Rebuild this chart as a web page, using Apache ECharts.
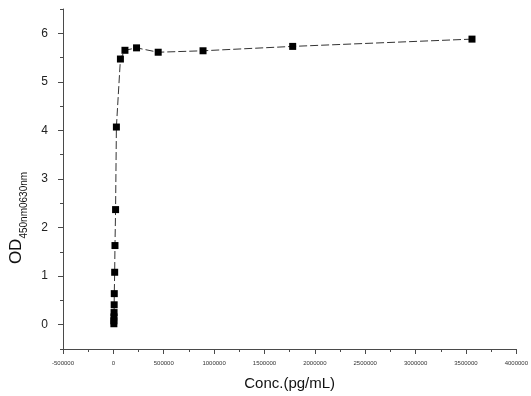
<!DOCTYPE html>
<html>
<head>
<meta charset="utf-8">
<script src="https://cdn.jsdelivr.net/npm/echarts@6/dist/echarts.min.js"></script>
<style>
  html, body { margin: 0; padding: 0; background: #fff; }
  #chart { width: 531px; height: 396px; }
</style>
</head>
<body>
<div id="chart"></div>
<script>
// concentration (pg/mL) and OD readings
const conc = [3560000, 1780000, 890000, 445000, 230000, 115000, 70000, 30000, 22000, 16000, 13000, 9000, 8000, 7000, 6000, 5000, 5000];
const od = [5.88, 5.73, 5.64, 5.61, 5.70, 5.65, 5.47, 4.07, 2.37, 1.63, 1.08, 0.64, 0.41, 0.25, 0.16, 0.08, 0.02];

const yMajor = [0, 1, 2, 3, 4, 5, 6];
const yMinor = [-0.5, 0.5, 1.5, 2.5, 3.5, 4.5, 5.5, 6.5];

const points = conc.map((c, i) => [c, od[i]]);

const chart = echarts.init(document.getElementById('chart'), null, { renderer: 'canvas' });

const axisColor = '#4a4a4a';

const option = {
  backgroundColor: '#fff',
  animation: false,
  grid: { left: 61, right: 13, top: 9, bottom: 47 },
  xAxis: {
    type: 'value',
    min: -500000,
    max: 4000000,
    interval: 500000,
    name: 'Conc.(pg/mL)',
    nameLocation: 'middle',
    nameGap: 27,
    nameTextStyle: { fontFamily: 'Liberation Sans', fontSize: 15, color: '#111' },
    axisLine: { onZero: false, lineStyle: { color: axisColor, width: 1 } },
    axisTick: { length: 5, lineStyle: { color: axisColor } },
    minorTick: { show: true, splitNumber: 2, length: 3, lineStyle: { color: axisColor } },
    axisLabel: {
      fontFamily: 'Liberation Sans', fontSize: 6, color: '#333', margin: 11, showMaxLabel: true,
      formatter: v => String(v)
    },
    splitLine: { show: false }
  },
  yAxis: [
    {
      type: 'value',
      min: -0.5,
      max: 6.5,
      name: '{a|OD}{b|450nm0630nm}',
      nameLocation: 'middle',
      nameGap: 38,
      nameRotate: 90,
      nameTextStyle: {
        padding: [0, 78, 0, 0],
        rich: {
          a: { fontFamily: 'Liberation Sans', fontSize: 17, color: '#111', verticalAlign: 'bottom', lineHeight: 20 },
          b: { fontFamily: 'Liberation Sans', fontSize: 10, color: '#111', verticalAlign: 'bottom', lineHeight: 12, padding: [0, 0, -4, 0] }
        }
      },
      axisLine: { show: true, onZero: false, lineStyle: { color: axisColor, width: 1 } },
      axisTick: { length: 5, customValues: yMajor, lineStyle: { color: axisColor } },
      axisLabel: {
        fontFamily: 'Liberation Sans', fontSize: 12, color: '#222', margin: 15,
        customValues: yMajor
      },
      splitLine: { show: false }
    },
    {
      // second copy of the y axis, only for the half-step minor ticks
      type: 'value',
      position: 'left',
      min: -0.5,
      max: 6.5,
      axisLine: { show: false, onZero: false },
      axisTick: { length: 3, customValues: yMinor, lineStyle: { color: axisColor } },
      axisLabel: { show: false },
      splitLine: { show: false }
    }
  ],
  series: [{
    type: 'line',
    data: points,
    symbol: 'rect',
    symbolSize: 7,
    itemStyle: { color: '#000' },
    lineStyle: { color: '#333', width: 1, type: [8, 3] }
  }]
};

chart.setOption(option);
</script>
</body>
</html>
